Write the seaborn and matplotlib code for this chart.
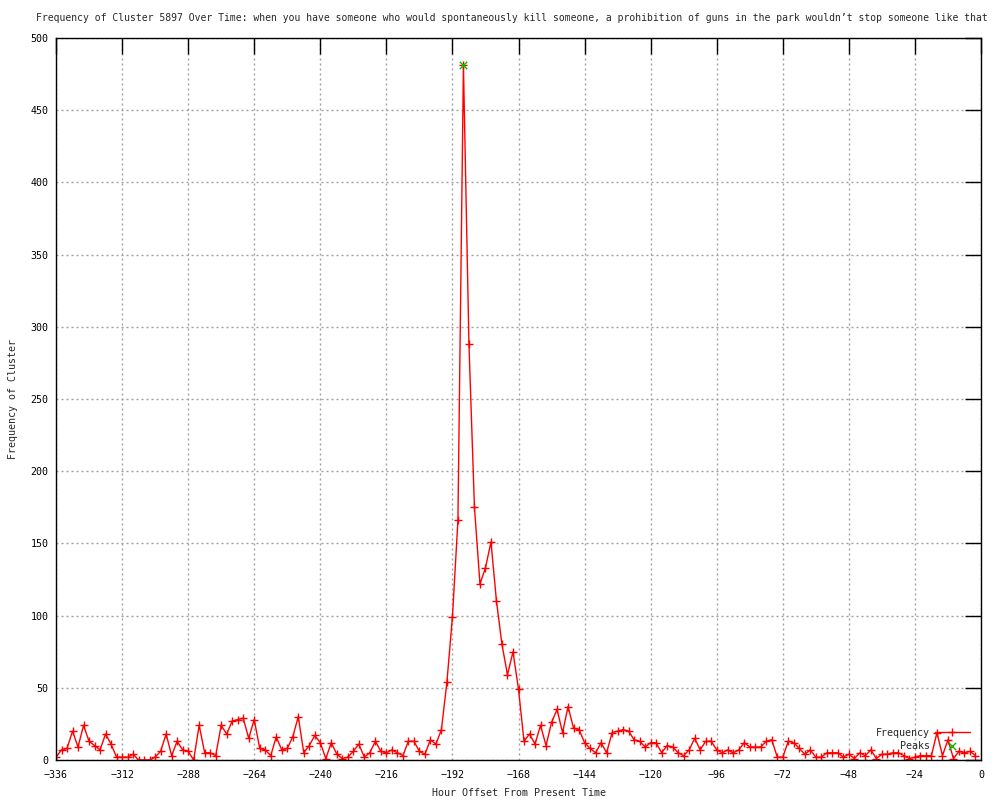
import matplotlib
matplotlib.use('Agg')
import matplotlib.pyplot as plt
import seaborn as sns
import pandas as pd

# hour offsets (every 2 hours) and counts
hours = list(range(-336, 0, 2))
frequency = [
    2, 7, 8, 20, 9, 24, 13, 10, 7, 18, 11, 2, 2, 2, 4, 0, 0, 0, 2, 6,
    18, 3, 13, 7, 6, 0, 24, 5, 5, 3, 24, 18, 27, 28, 29, 15, 28, 8, 7, 3,
    16, 7, 8, 16, 30, 5, 10, 17, 12, 1, 12, 4, 1, 2, 6, 11, 2, 5, 13, 6,
    5, 7, 5, 3, 13, 13, 6, 4, 14, 11, 21, 54, 99, 166, 481, 288, 175, 122, 133, 151,
    110, 80, 59, 75, 49, 13, 18, 11, 24, 10, 26, 35, 19, 37, 22, 21, 12, 8, 5, 12,
    5, 19, 20, 21, 20, 14, 13, 9, 12, 12, 5, 10, 9, 5, 3, 7, 15, 7, 13, 13,
    7, 5, 7, 5, 7, 12, 9, 9, 9, 13, 14, 2, 2, 13, 12, 8, 4, 7, 2, 2,
    5, 5, 5, 2, 4, 1, 5, 3, 7, 1, 4, 4, 5, 5, 3, 1, 2, 3, 3, 3,
    19, 3, 14, 1, 6, 5, 6, 3,
]
peak_hours = [-188]
peak_values = [481]

x_ticks = list(range(-336, 1, 24))
y_ticks = list(range(0, 501, 50))

title = ("Frequency of Cluster 5897 Over Time: when you have someone who would "
         "spontaneously kill someone, a prohibition of guns in the park wouldn\u2019t "
         "stop someone like that")

data = pd.DataFrame({'hour': hours, 'freq': frequency})
peaks = pd.DataFrame({'hour': peak_hours, 'freq': peak_values})

sns.set_style('white')
plt.rcParams['font.family'] = ['DejaVu Sans Mono']
fs = 7.2

fig = plt.figure(figsize=(10, 8), dpi=100)
ax = fig.add_axes([0.056, 0.05, 0.925, 0.9025])

sns.lineplot(data=data, x='hour', y='freq', color='red', marker='+',
             markersize=6, markeredgewidth=1, markeredgecolor='red',
             linewidth=1, label='Frequency', ax=ax, zorder=2)
sns.scatterplot(data=peaks, x='hour', y='freq', marker='x', color='#00c000',
                s=28, linewidth=1, label='Peaks', ax=ax, zorder=3)

ax.set_xlim(-336, 0)
ax.set_ylim(0, 500)
ax.set_xticks(x_ticks)
ax.set_yticks(y_ticks)
ax.set_xlabel('')
ax.set_ylabel('')

ax.grid(True, color='#a0a0a0', linestyle=(0, (1.44, 2.16)), linewidth=1)
ax.tick_params(axis='both', direction='in', length=11.5, width=1,
               top=True, right=True, labelsize=fs, colors='black')
ax.tick_params(axis='x', pad=7)
ax.tick_params(axis='y', pad=5.5)
for s in ax.spines.values():
    s.set_color('black')
    s.set_linewidth(1)

ax.legend(loc='lower right', bbox_to_anchor=(0.988, 0.0125), frameon=False,
          markerfirst=False, fontsize=fs, handlelength=3.5, handletextpad=0.5,
          labelspacing=0.3, borderpad=0, borderaxespad=0)

# title slightly smaller so it fits inside the canvas
fig.text(0.512, 1 - 18 / 800, title, ha='center', va='center', fontsize=7.0)
fig.text(0.5185, 1 - 793 / 800, 'Hour Offset From Present Time',
         ha='center', va='center', fontsize=fs)
fig.text(0.013, 1 - 399 / 800, 'Frequency of Cluster', rotation=90,
         ha='center', va='center', fontsize=fs)

fig.savefig('out.png', dpi=100)
